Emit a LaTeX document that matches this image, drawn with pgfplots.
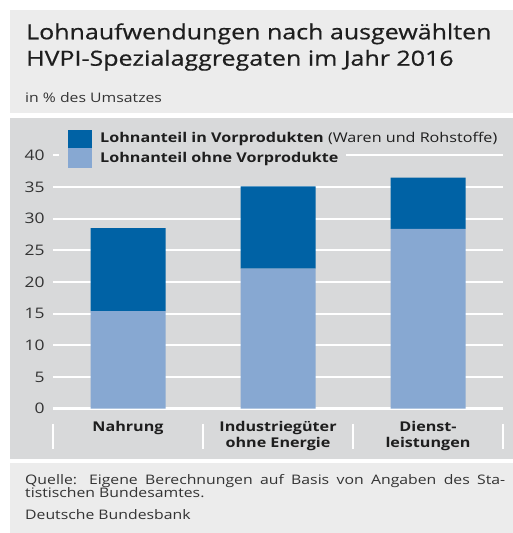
\documentclass[border=0pt]{standalone}
\usepackage{pgfplots}
\pgfplotsset{compat=1.18}
\usepackage{fontspec}
\setmainfont[FakeStretch=1.2]{Open Sans}
\newfontfamily\titlefont[FakeStretch=1.2, FakeBold=0.6]{Open Sans}
\definecolor{darkblue}{HTML}{0062A5}
\definecolor{lightblue}{HTML}{87A8D2}
\definecolor{panel}{HTML}{D8D9DA}
\definecolor{lightpanel}{HTML}{ECECEC}
\definecolor{txt}{HTML}{1E1E1E}
\definecolor{ticktxt}{HTML}{333333}
\begin{document}
\begin{tikzpicture}[x=1bp,y=1bp]
\useasboundingbox (0,0) rectangle (513,533);
% panels
\fill[lightpanel] (10,533-10) rectangle (513,533-113);
\fill[panel] (10,533-118) rectangle (513,533-459);
\fill[lightpanel] (10,533-463) rectangle (513,0);
% title
\node[anchor=base west, inner sep=0, font=\titlefont\fontsize{20.9}{24}\selectfont, text=txt] at (26,533-39.3) {Lohnaufwendungen nach ausgewählten};
\node[anchor=base west, inner sep=0, font=\titlefont\fontsize{20.9}{24}\selectfont, text=txt] at (26,533-65.7) {HVPI-Spezialaggregaten im Jahr 2016};
\node[anchor=base west, inner sep=0, font=\fontsize{13.2}{15}\selectfont, text=ticktxt] at (25,533-102.5) {in \% des Umsatzes};
\begin{axis}[
  at={(53bp,124.4bp)}, anchor=south west,
  scale only axis, width=450bp, height=265.9bp,
  xmin=-0.5, xmax=2.5, ymin=0, ymax=42,
  ybar stacked, bar width=75bp,
  axis line style={draw=none}, tick style={draw=none},
  ymajorgrids, grid style={white, line width=2.2bp},
  ytick={0,5,...,40},
  xtick={0,1,2},
  xticklabels={Nahrung,Industriegüter\\ohne Energie,Dienst-\\leistungen},
  xticklabel style={font=\fontsize{13.5}{16.5}\selectfont\bfseries, text=txt, align=center, anchor=north, yshift=-9bp},
  yticklabel style={font=\fontsize{14.6}{16}\selectfont, text=ticktxt, anchor=east, xshift=-5bp},
  /pgf/number format/assume math mode=true,
  clip=false,
]
\addplot[fill=lightblue, draw=none] coordinates {(0,15.4) (1,22.1) (2,28.4)};
\addplot[fill=darkblue, draw=none] coordinates {(0,13.1) (1,13.0) (2,8.1)};
\draw[white, line width=3.5bp] (axis cs:-0.5,0) -- (axis cs:2.5,0);
\draw[white, line width=2.2bp] ([yshift=-15bp]axis cs:-0.5,0) -- ([yshift=-40bp]axis cs:-0.5,0);
\draw[white, line width=2.2bp] ([yshift=-15bp]axis cs:0.5,0) -- ([yshift=-40bp]axis cs:0.5,0);
\draw[white, line width=2.2bp] ([yshift=-15bp]axis cs:1.5,0) -- ([yshift=-40bp]axis cs:1.5,0);
\draw[white, line width=2.2bp] ([yshift=-15bp]axis cs:2.5,0) -- ([yshift=-40bp]axis cs:2.5,0);
\end{axis}
% legend
\fill[panel] (59,533-148) rectangle (346,533-166);
\fill[darkblue] (68,533-130) rectangle (92,533-148.5);
\fill[lightblue] (68,533-148.5) rectangle (92,533-168);
\node[anchor=west, inner sep=0, font=\fontsize{13.5}{15}\selectfont, text=txt] at (100,533-139) {\textbf{Lohnanteil in Vorprodukten} (Waren und Rohstoffe)};
\node[anchor=west, inner sep=0, font=\fontsize{13.5}{15}\selectfont, text=txt] at (100,533-159) {\textbf{Lohnanteil ohne Vorprodukte}};
% footer
\node[anchor=north west, inner sep=0, text width=480bp, align=justify, font=\fontsize{13.2}{13.3}\selectfont, text=ticktxt] at (25,533-474) {Quelle: Eigene Berechnungen auf Basis von Angaben des Sta-\linebreak tistischen Bundesamtes.};
\node[anchor=base west, inner sep=0, font=\fontsize{13.2}{13.3}\selectfont, text=ticktxt] at (25,533-520) {Deutsche Bundesbank};
\end{tikzpicture}
\end{document}
